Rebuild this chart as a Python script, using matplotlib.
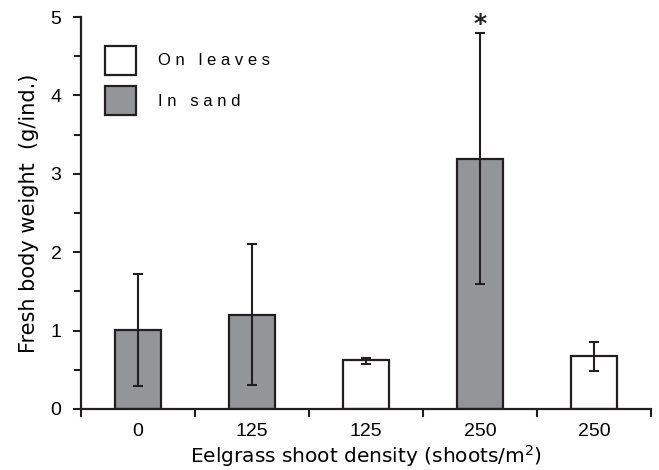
import numpy as np
import matplotlib
matplotlib.use('Agg')
import matplotlib.pyplot as plt
from matplotlib.patches import Patch

plt.rcParams['font.family'] = ['Liberation Sans', 'DejaVu Sans']

categories = ['0', '125', '125', '250', '250']
means = [1.01, 1.20, 0.625, 3.19, 0.68]
err_low = [0.29, 0.31, 0.57, 1.59, 0.49]
err_high = [1.72, 2.10, 0.65, 4.79, 0.855]
habitat = ['In sand', 'In sand', 'On leaves', 'In sand', 'On leaves']
colors = {'On leaves': 'white', 'In sand': '#939598'}
star_idx = 3

edge = '#231f20'
x = np.arange(len(categories))
means_a = np.array(means)
yerr = [means_a - np.array(err_low), np.array(err_high) - means_a]

fig = plt.figure(figsize=(6.59, 4.70), dpi=100)
ax = fig.add_axes([0.1229, 0.1298, 0.988 - 0.1229, 0.9638 - 0.1298])

ax.bar(x, means, width=0.40, color=[colors[h] for h in habitat],
       edgecolor=edge, linewidth=1.6, zorder=2)
ax.errorbar(x, means, yerr=yerr, fmt='none', ecolor=edge, elinewidth=1.5,
            capsize=3.5, capthick=1.5, zorder=3)
ax.text(x[star_idx], err_high[star_idx] + 0.12, '*', ha='center', va='center',
        fontsize=18, color=edge, family=['DejaVu Sans'], fontweight='bold')

ax.set_xlim(-0.5, len(categories) - 0.5)
ax.set_ylim(0, 5)
ax.set_xticks(np.arange(-0.5, len(categories)), minor=False)
ax.set_xticklabels([])
ax.set_xticks(x, minor=True)
ax.set_xticklabels(categories, minor=True, fontsize=14)
ax.tick_params(axis='x', which='major', direction='out', length=6, width=1.5, color=edge)
ax.tick_params(axis='x', which='minor', length=0, pad=10)
ax.set_yticks([0, 1, 2, 3, 4, 5])
ax.set_yticklabels(['0', '1', '2', '3', '4', '5'], fontsize=14)
ax.set_yticks(np.arange(0.5, 5, 1), minor=True)
ax.tick_params(axis='y', which='major', direction='out', length=6, width=1.5, color=edge, pad=8)
ax.tick_params(axis='y', which='minor', direction='out', length=5, width=1.5, color=edge)

for s in ['top', 'right']:
    ax.spines[s].set_visible(False)
for s in ['left', 'bottom']:
    ax.spines[s].set_linewidth(1.6)
    ax.spines[s].set_color(edge)

lab_font = ['DejaVu Sans']
ax.set_ylabel('Fresh body weight  (g/ind.)', fontsize=15, family=lab_font, labelpad=8)
ax.set_xlabel('Eelgrass shoot density (shoots/m$^2$)', fontsize=14.5, family=lab_font,
              va='bottom')
ax.xaxis.set_label_coords(0.5, -0.152)

handles = [Patch(facecolor='white', edgecolor=edge, linewidth=1.6),
           Patch(facecolor='#939598', edgecolor=edge, linewidth=1.6)]
ax.legend(handles, ['O n   l e a v e s', 'I n   s a n d'], loc='upper left',
          bbox_to_anchor=(0.015, 0.965), frameon=False, fontsize=12,
          handlelength=1.9, handleheight=2.3, handletextpad=1.3, labelspacing=0.7)

fig.savefig('out.png', dpi=100)
